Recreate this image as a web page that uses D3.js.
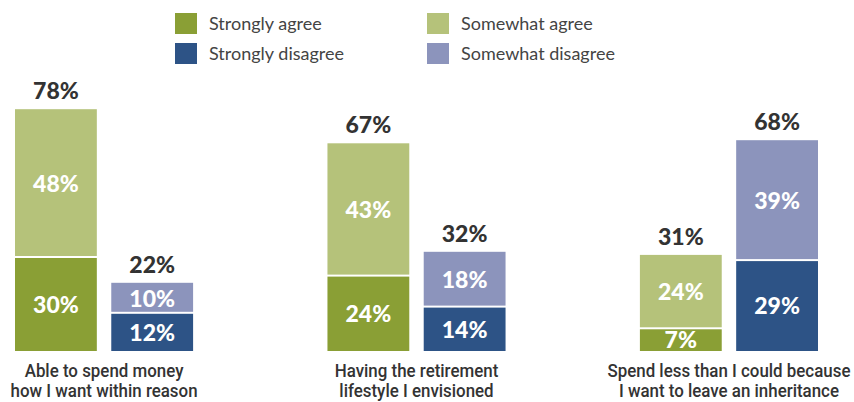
<!DOCTYPE html>
<html>
<head>
<meta charset="utf-8">
<script src="https://cdn.jsdelivr.net/npm/d3@7"></script>
<style>
  body { margin: 0; background: #fff; }
  svg { display: block; }
</style>
</head>
<body>
<div id="chart"></div>
<script>
const categories = [
  ["Able to spend money", "how I want within reason"],
  ["Having the retirement", "lifestyle I envisioned"],
  ["Spend less than I could because", "I want to leave an inheritance"]
]
const stronglyAgree = [30, 24, 7]
const somewhatAgree = [48, 43, 24]
const stronglyDisagree = [12, 14, 29]
const somewhatDisagree = [10, 18, 39]
const legendLabels = ["Strongly agree", "Somewhat agree", "Strongly disagree", "Somewhat disagree"]

const colors = {
  sa: '#8a9f35',
  wa: '#b5c27a',
  sd: '#2d5386',
  wd: '#8c94bc'
}

const w = 854, h = 402
const base = 351

const svg = d3.select("#chart").append("svg")
  .attr("width", w)
  .attr("height", h)

const groupX = d3.scaleBand()
  .domain(d3.range(categories.length))
  .range([15, 818])
  .paddingInner(0.43)
  .paddingOuter(0)

const sideX = d3.scaleBand()
  .domain(["agree", "disagree"])
  .paddingInner(0.15)

const y = d3.scaleLinear()
  .domain([0, 100])
  .range([base, base - 310])

// legend
const legendColors = [colors.sa, colors.wa, colors.sd, colors.wd]
const legend = svg.append("g").attr("class", "legend")
legendLabels.forEach((lab, i) => {
  const col = i % 2, row = Math.floor(i / 2)
  const lx = 175 + col * 252, ly = 13 + row * 30
  legend.append("rect")
    .attr("x", lx).attr("y", ly)
    .attr("width", 22).attr("height", 21)
    .attr("fill", legendColors[i])
  legend.append("text")
    .attr("x", lx + 34).attr("y", ly + 11)
    .attr("dy", "0.36em")
    .attr("font-family", "Lato, 'Open Sans', sans-serif")
    .attr("font-size", 18)
    .attr("fill", "#444")
    .text(lab)
})

const labelFont = "Lato, 'Open Sans', sans-serif"

categories.forEach((cat, i) => {
  const g = svg.append("g").attr("transform", `translate(${groupX(i)},0)`)
  sideX.range([0, groupX.bandwidth()])
  const stacks = {
    agree: [[stronglyAgree[i], colors.sa], [somewhatAgree[i], colors.wa]],
    disagree: [[stronglyDisagree[i], colors.sd], [somewhatDisagree[i], colors.wd]]
  }
  Object.keys(stacks).forEach(side => {
    let acc = 0
    const bx = sideX(side), bw = sideX.bandwidth()
    stacks[side].forEach((seg, k) => {
      const v0 = acc, v1 = acc + seg[0]
      acc = v1
      const gap = k > 0 ? 2 : 0
      g.append("rect")
        .attr("x", bx).attr("width", bw)
        .attr("y", y(v1))
        .attr("height", y(v0) - y(v1) - gap)
        .attr("fill", seg[1])
      g.append("text")
        .attr("x", bx + bw / 2)
        .attr("y", (y(v0) + y(v1)) / 2)
        .attr("dy", "0.36em")
        .attr("text-anchor", "middle")
        .attr("font-family", labelFont)
        .attr("font-weight", 900)
        .attr("font-size", 23)
        .attr("fill", "#fff")
        .text(seg[0] + "%")
    })
    g.append("text")
      .attr("x", bx + bw / 2)
      .attr("y", y(acc) - 10)
      .attr("text-anchor", "middle")
      .attr("font-family", labelFont)
      .attr("font-weight", 900)
      .attr("font-size", 23)
      .attr("fill", "#333")
      .text(acc + "%")
  })
  // condensed category label: squeeze horizontally
  const cx = groupX.bandwidth() / 2
  const t = g.append("text")
    .attr("transform", `translate(${cx},377) scale(0.89,1)`)
    .attr("text-anchor", "middle")
    .attr("font-family", "Roboto, sans-serif")
    .attr("font-weight", 500)
    .attr("font-size", 19)
    .attr("fill", "#333")
  cat.forEach((line, j) => {
    t.append("tspan")
      .attr("x", 0)
      .attr("dy", j === 0 ? 0 : 20)
      .text(line)
  })
})
</script>
</body>
</html>
